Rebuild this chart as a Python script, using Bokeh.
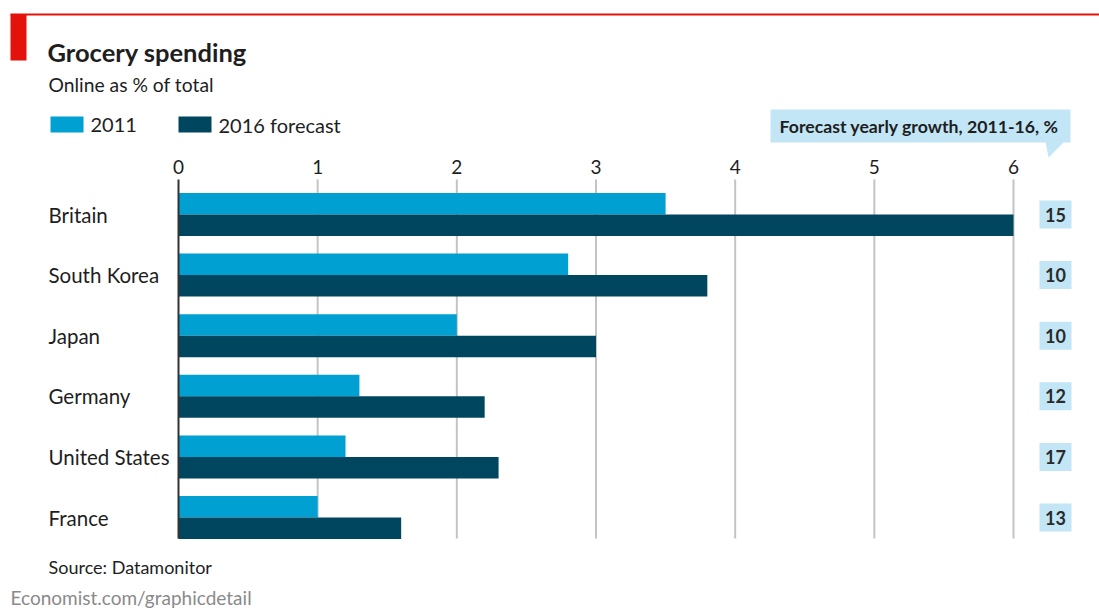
from bokeh.plotting import figure
from bokeh.models import Range1d, ColumnDataSource
from bokeh.core.properties import value
from bokeh.embed import file_html
from bokeh.resources import INLINE

# ---- data ----
countries = ["Britain", "South Korea", "Japan", "Germany", "United States", "France"]
share_2011 = [3.5, 2.8, 2.0, 1.3, 1.2, 1.0]
share_2016 = [6.0, 3.8, 3.0, 2.2, 2.3, 1.6]
growth = [15, 10, 10, 12, 17, 13]
x_ticks = [0, 1, 2, 3, 4, 5, 6]
series_labels = ["2011", "2016 forecast"]

# ---- layout helpers (pixel -> data) ----
W, H = 1099, 610
X0_PX, PX_PER_X = 178.0, (1013.0 - 178.0) / 6.0
Y0_PX, PX_PER_Y = 214.0, (517.0 - 214.0) / 5.0

def X(px):
    return (px - X0_PX) / PX_PER_X

def Y(px):
    return (px - Y0_PX) / PX_PER_Y

FONT = "Lato"
C2011 = "#00a0d3"
C2016 = "#00465e"
BOXC = "#c2e6f6"
RED = "#e3120b"
TXT = "#1e1e1e"

p = figure(width=W, height=H, output_backend="svg", toolbar_location=None,
           x_range=Range1d(X(0), X(W)), y_range=Range1d(Y(H), Y(0)),
           min_border=0, background_fill_color="white", border_fill_color="white")
p.axis.visible = False
p.grid.visible = False
p.outline_line_color = None

idx = list(range(len(countries)))
bar_h = 21.5 / PX_PER_Y
src = ColumnDataSource(dict(
    y=idx,
    y_a=[i - bar_h / 2 for i in idx],
    y_b=[i + bar_h / 2 for i in idx],
    v1=share_2011, v2=share_2016,
    country=countries,
    growth=[str(g) for g in growth],
))

# grid lines
grid_src = ColumnDataSource(dict(x=x_ticks[1:]))
p.segment(x0="x", x1="x", y0=Y(179), y1=Y(538), source=grid_src,
          line_color="#c4c4c4", line_width=2)

# bars
p.hbar(y="y_a", left=0, right="v1", height=bar_h, source=src,
       fill_color=C2011, line_color=None)
p.hbar(y="y_b", left=0, right="v2", height=bar_h, source=src,
       fill_color=C2016, line_color=None)

# zero line
p.segment(x0=[0], x1=[0], y0=[Y(179)], y1=[Y(538)], line_color="#333333", line_width=2)

# tick labels
tick_src = ColumnDataSource(dict(x=x_ticks, lab=[str(t) for t in x_ticks]))
p.text(x="x", y=Y(166), text="lab", source=tick_src, text_align="center",
       text_baseline="middle", text_font=value(FONT), text_font_size="19px",
       text_color=TXT)

# country labels
p.text(x=X(48), y="y", text="country", source=src, text_align="left",
       text_baseline="middle", text_font=value(FONT), text_font_size="20.5px",
       text_color=TXT)

# growth boxes
p.quad(left=X(1039), right=X(1071), top=[i - 14 / PX_PER_Y for i in idx],
       bottom=[i + 14 / PX_PER_Y for i in idx], fill_color=BOXC, line_color=None)
p.text(x=X(1055), y="y", text="growth", source=src, text_align="center",
       text_baseline="middle", text_font=value(FONT), text_font_size="18px",
       text_font_style="bold", text_color="#2a2a2a")

# forecast header box with pointer
p.quad(left=[X(770)], right=[X(1070)], top=[Y(109)], bottom=[Y(142)],
       fill_color=BOXC, line_color=None)
p.patch(x=[X(1045), X(1064), X(1048)], y=[Y(141), Y(141), Y(157)],
        fill_color=BOXC, line_color=None)
p.text(x=[X(779)], y=[Y(126)], text=["Forecast yearly growth, 2011-16, %"],
       text_align="left", text_baseline="middle", text_font=value(FONT),
       text_font_size="17.7px", text_font_style="bold", text_color=TXT)

# red decorations
p.segment(x0=[X(10)], x1=[X(W)], y0=[Y(14)], y1=[Y(14)], line_color=RED, line_width=2)
p.quad(left=[X(10)], right=[X(26)], top=[Y(14)], bottom=[Y(60)], fill_color=RED, line_color=None)

# title and subtitle
p.text(x=[X(47)], y=[Y(51)], text=["Grocery spending"], text_align="left",
       text_baseline="middle", text_font=value(FONT), text_font_size="25.5px",
       text_font_style="bold", text_color=TXT)
p.text(x=[X(48)], y=[Y(84)], text=["Online as % of total"], text_align="left",
       text_baseline="middle", text_font=value(FONT), text_font_size="19.3px",
       text_color=TXT)

# legend
p.quad(left=[X(50), X(178)], right=[X(83), X(211)], top=[Y(116), Y(116)],
       bottom=[Y(132), Y(132)], fill_color=[C2011, C2016], line_color=None)
p.text(x=[X(90), X(218)], y=[Y(124), Y(124)], text=series_labels, text_align="left",
       text_baseline="middle", text_font=value(FONT), text_font_size="20px",
       text_color=TXT)

# footer
p.text(x=[X(48)], y=[Y(566)], text=["Source: Datamonitor"], text_align="left",
       text_baseline="middle", text_font=value(FONT), text_font_size="18px",
       text_color=TXT)
p.text(x=[X(10)], y=[Y(597)], text=["Economist.com/graphicdetail"], text_align="left",
       text_baseline="middle", text_font=value(FONT), text_font_size="19px",
       text_color="#8a8a8a")

open("out.html", "w").write(file_html(p, INLINE))
